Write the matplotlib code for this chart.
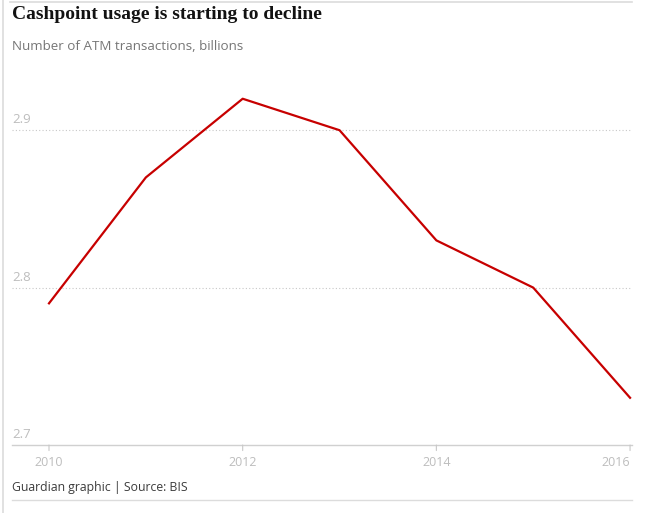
import matplotlib
matplotlib.use("Agg")
import matplotlib.pyplot as plt
from matplotlib.lines import Line2D

years = [2010, 2011, 2012, 2013, 2014, 2015, 2016]
transactions = [2.79, 2.87, 2.92, 2.90, 2.83, 2.80, 2.73]
x_ticks = [2010, 2012, 2014, 2016]
y_ticks = [2.7, 2.8, 2.9]

W, H = 662, 513
fig = plt.figure(figsize=(W / 100, H / 100), dpi=100)

# axes placed in pixel terms
left, right = 12, 632
bottom, top = 445, 83
ax = fig.add_axes([left / W, (H - bottom) / H, (right - left) / W, (bottom - top) / H])
ax.set_xlim(2009.618, 2016.02)
ax.set_ylim(2.7, 2.93)
ax.axis("off")

# gridlines
for v in y_ticks[1:]:
    ax.axhline(v, color="#c8c8c8", lw=0.8, ls=(0, (1, 2)), zorder=1)
ax.axhline(2.7, color="#d0d0d0", lw=1.0, zorder=1, clip_on=False)

# y tick labels (above the gridline, left side)
for v in y_ticks:
    ax.text(0.0, v + 0.0025, f"{v:.1f}", transform=ax.get_yaxis_transform(),
            ha="left", va="bottom", fontsize=9.5, color="#bdbdbd", family="Open Sans")

# x ticks and labels
for xv in x_ticks:
    ax.annotate("", xy=(xv, 2.7), xytext=(0, -4), textcoords="offset points",
                arrowprops=dict(arrowstyle="-", color="#c8c8c8", lw=0.8,
                                shrinkA=0, shrinkB=0),
                annotation_clip=False)
    ha = "right" if xv == x_ticks[-1] else "center"
    ax.annotate(str(xv), xy=(xv, 2.7), xytext=(0, -8), textcoords="offset points",
                ha=ha, va="top", fontsize=9, color="#bdbdbd", family="Open Sans",
                annotation_clip=False)

ax.plot(years, transactions, color="#c70000", lw=1.6, zorder=3, clip_on=False)

# frame lines
fig.add_artist(Line2D([2.5 / W, 2.5 / W], [0, 1], color="#dcdcdc", lw=1.2))
fig.add_artist(Line2D([10 / W, 632 / W], [1 - 1.5 / H, 1 - 1.5 / H], color="#dcdcdc", lw=1.2))
fig.add_artist(Line2D([12 / W, 632 / W], [1 - 500 / H, 1 - 500 / H], color="#dcdcdc", lw=1.0))

fig.text(12 / W, 1 - 15 / H, "Cashpoint usage is starting to decline", ha="left", va="center",
         fontsize=14, fontweight="bold", family="Liberation Serif", color="#121212")
fig.text(12 / W, 1 - 46 / H, "Number of ATM transactions, billions", ha="left", va="center",
         fontsize=9.6, family="Open Sans", color="#767676")
fig.text(12 / W, 1 - 488 / H, "Guardian graphic | Source: BIS", ha="left", va="center",
         fontsize=8.8, family="Open Sans", color="#3c3c3c")

fig.savefig("out.png", dpi=100)
